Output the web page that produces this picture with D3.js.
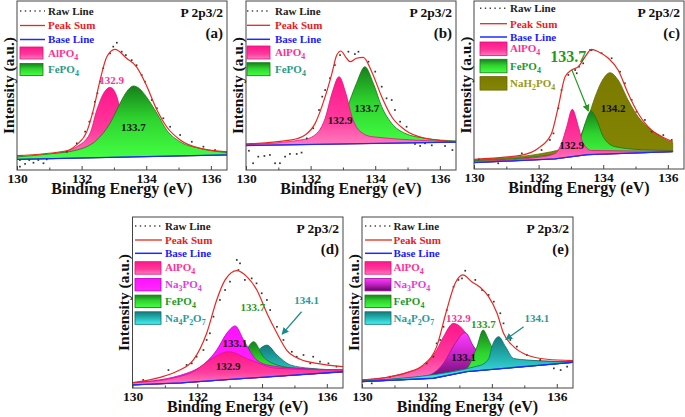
<!DOCTYPE html>
<html>
<head>
<meta charset="utf-8">
<script src="https://d3js.org/d3.v7.min.js"></script>
<style>
  body { margin: 0; background: #fff; }
  svg { display: block; font-family: "Liberation Serif", "Times New Roman", serif; font-weight: bold; }
</style>
</head>
<body>
<svg id="chart" width="685" height="417"></svg>
<script>
// ---- data: [binding energy (eV), intensity (a.u., 0-100 of frame)] ----
const X_TICKS = [130, 132, 134, 136];
const X_MINOR = [131, 133, 135];

// (a)
const aRaw = [[130.09,5.9],[130.25,3.6],[130.38,5.9],[130.51,4.3],[130.66,5.9],[130.82,4],[130.92,6.3],[130.09,2],
  [131.54,10.8],[131.85,15.8],[132.11,22.7],[132.24,28.6],[132.34,33.5],[132.41,40.4],[132.49,45.4],[132.57,52.3],
  [132.67,60.2],[132.88,69],[132.98,73],[133.09,75.3],[133.24,70],[133.37,68],[133.55,65],[133.7,62],[133.86,56.2],
  [133.96,52.3],[134.17,41.4],[134.33,36.5],[134.53,30.6],[134.74,25.6],[135.05,20.7],[135.41,16.7],[135.77,13.8],
  [136.13,11.8],[136.49,10.8]];
const aSum = [[130,8.5],[131.54,11.4],[131.85,15],[132.16,22.7],[132.37,36],[132.57,53],[132.78,67],[133.03,71.4],
  [133.4,66],[133.7,61],[134.0,50.3],[134.33,35.5],[134.63,25.6],[135.05,17.8],[135.67,12.8],[136.5,10.8]];
const aBase = [[130,6.3],[136.5,8.9]];
const aAlPO4 = [[130,7.5],[131.23,9.9],[131.85,13.8],[132.26,21.7],[132.47,35.5],[132.7,46],[132.88,48.9],[133.06,45],
  [133.2,36],[133.45,24],[133.8,15],[134.5,11],[136.5,9.5]];
const aFePO4 = [[130,7.8],[131,9.5],[131.85,11.8],[132.47,17.8],[132.88,27.6],[133.19,39.5],[133.4,46.5],[133.6,49.7],
  [133.8,48],[134.0,43.4],[134.33,33.6],[134.63,23.7],[135.05,16.7],[135.67,12.8],[136.5,10.3]];

// (b)
const bRaw = [[130.09,11.4],[130.22,4],[130.38,7.9],[130.57,8.3],[130.74,8.9],[130.9,4],[131.05,4],[131.21,7.9],
  [131.36,9.5],[131.57,9.5],[131.72,10.3],[131.88,18.7],[132.08,24.7],[132.26,35.5],[132.36,43.4],[132.45,47.3],
  [132.6,54.3],[132.75,62.1],[132.91,68],[133.17,70],[133.37,68.6],[133.48,70],[133.79,64.1],[134.0,58.2],[134.2,49.3],
  [134.35,42.4],[134.51,41.4],[134.61,35.5],[134.77,28.6],[134.97,25.6],[135.23,15.4],[135.39,14.2],[135.54,15.8],
  [135.75,14.6],[136.16,14.2],[136.39,11.8]];
const bSum = [[130,15.4],[131.41,17.8],[131.83,20.7],[132.14,27.6],[132.45,43.4],[132.66,57.2],[132.81,68],[132.94,70.4],
  [133.08,67],[133.22,64.1],[133.42,66.1],[133.63,66.7],[133.89,58.2],[134.2,43.4],[134.51,31.5],[134.92,23.7],
  [135.54,18.8],[136.5,16.7]];
const bBase = [[130,14.5],[136.5,16.5]];
const bAlPO4 = [[130,15],[131.83,18.2],[132.24,22.7],[132.45,30.6],[132.66,45.4],[132.88,55.2],[133.09,45.4],[133.28,31.5],
  [133.49,23.7],[133.9,19.7],[136.5,16.8]];
const bFePO4 = [[130,15],[132.35,16.7],[132.76,20.7],[133.01,29.6],[133.22,41.4],[133.42,51.3],[133.68,61.1],[133.94,51.3],
  [134.2,37.5],[134.51,27.6],[134.92,21.7],[135.54,18.8],[136.5,17.2]];

// (c)
const cRaw = [[130.15,5.8],[130.75,3.4],[131.48,9.3],[132.09,11.3],[132.35,17.3],[132.46,21.2],[132.61,36.1],[132.71,47],
  [132.92,56],[133.13,58.9],[133.18,57],[133.25,60.9],[133.38,62.9],[133.59,70.8],[133.64,70.8],[133.95,68.9],
  [134.26,65.9],[134.52,57.9],[134.67,51],[134.88,41.1],[135.03,34.1],[135.29,29.2],[135.5,22.2],[135.86,20.2],[136.12,17.3]];
const cSum = [[130,5.8],[131.48,8.3],[131.99,12.3],[132.4,21.2],[132.61,37.1],[132.82,54.9],[133.02,58.9],[133.23,60.9],
  [133.44,66.8],[133.64,71.2],[133.85,69.8],[134.16,65.9],[134.46,58.9],[134.77,45],[135.08,33.2],[135.49,23.2],
  [135.85,18.9],[136.15,16.3]];
const cBase = [[130,3.8],[132.5,6],[133.5,8.5],[136.15,10.3]];
const cAlPO4 = [[130,4.5],[132,7],[132.51,9.3],[132.71,15.3],[132.87,25.2],[133.04,35.5],[133.23,25.2],[133.38,15.3],
  [133.64,11],[136.15,10.6]];
const cFePO4 = [[130,5],[132,7.5],[132.8,10],[133.13,12.3],[133.28,17.3],[133.44,27.2],[133.62,34.5],[133.8,29.2],
  [134.0,19.2],[134.36,13.3],[135.19,11.5],[136.15,11]];
const cNaH2PO4 = [[130,5.5],[132.4,10.3],[133.02,15.3],[133.33,21.2],[133.54,31.1],[133.75,43],[133.95,52],[134.21,57.3],
  [134.46,53],[134.77,41],[135.08,31.1],[135.49,23.2],[135.85,18.3],[136.15,15.7]];

// (d)
const dRaw = [[130.33,4.7],[131.11,10.5],[131.67,13.5],[131.83,14.4],[131.98,18.3],[132.19,22.2],[132.29,28.1],[132.39,32],
  [132.5,41.7],[132.7,51.5],[132.86,57.3],[133.01,62.2],[133.22,74.9],[133.27,69],[133.32,72.9],[133.47,63.2],[133.68,64.1],
  [133.83,61.2],[133.99,55.4],[134.15,51.5],[134.25,45.6],[134.46,35.8],[134.66,28.1],[134.92,21.2],[135.07,18.3],
  [135.28,19.3],[135.49,14.4],[135.58,18.3],[135.79,15.4],[136.05,14.4],[136.3,12.5]];
const dSum = [[130,3.1],[130.85,6.2],[131.36,9.6],[131.88,16.4],[132.29,32],[132.6,51.5],[132.86,63.2],[133.22,68.6],
  [133.53,65.1],[133.84,57.3],[134.15,43.7],[134.46,32],[134.76,22.2],[135.18,16.8],[135.69,14.4],[136.5,12.5]];
const dBase = [[130,1.8],[131.5,3],[133,5],[136.5,9.5]];
const dAlPO4 = [[130,3],[131.3,6],[131.88,9.6],[132.39,16.4],[132.96,21.2],[133.63,16.4],[134.46,11.5],[136.5,10.5]];
const dNa3PO4 = [[130,3],[131.67,8.6],[132.29,15.4],[132.6,22.2],[132.91,32],[133.17,36.3],[133.43,28.1],[133.74,18.3],
  [134.15,13.5],[135.08,11.5],[136.5,10.5]];
const dFePO4 = [[130,3],[132.5,9],[133.2,16],[133.53,23],[133.74,27.1],[134.04,18.3],[134.46,13.5],[135.08,11.5],[136.5,10.5]];
const dNa4P2O7 = [[130,3],[133,8],[133.63,16.4],[133.89,22.2],[134.15,25.1],[134.46,19.3],[134.87,13.5],[135.49,11.5],[136.5,10.5]];

// (e)
const eRaw = [[130.3,2.7],[130.86,6.6],[131.99,14.4],[132.2,18.3],[132.3,26.1],[132.41,28.1],[132.51,35.8],[132.61,45.6],
  [132.82,59.2],[132.97,63.2],[133.08,64.1],[133.18,68.6],[133.49,63.2],[133.7,57.3],[133.9,54.4],[134.06,50.5],
  [134.26,43.7],[134.36,37.8],[134.57,28.1],[134.77,24.2],[135.08,19.3],[135.49,16.4],[135.91,11.5],[136.12,10.5],[136.32,12.5]];
const eSum = [[130,4.7],[130.86,6.6],[131.38,9],[131.89,13.5],[132.3,24.2],[132.61,45.6],[132.87,61.2],[133.11,66.1],
  [133.38,62.2],[133.64,58.9],[133.9,53.4],[134.16,43.7],[134.36,32],[134.67,24.2],[135.08,19.3],[135.7,16.8],[136.5,16]];
const eBase = [[130,3.7],[132.2,5.7],[133.23,9.6],[136.5,15]];
const eAlPO4 = [[130,4.7],[131.38,9],[131.99,14.4],[132.3,22.2],[132.51,30],[132.82,37.8],[133.08,34.9],[133.44,24],
  [133.95,16.5],[136.5,15.5]];
const eNa3PO4 = [[130,4.3],[131.89,6.6],[132.51,14.4],[132.87,26.1],[133.18,32.4],[133.44,24.2],[133.75,17.3],[134.16,15.6],[136.5,15.2]];
const eFePO4 = [[130,4],[133.2,11],[133.44,19.3],[133.54,24],[133.73,33.9],[133.9,28.1],[134.1,20.3],[134.47,16.8],[136.5,15.2]];
const eNa4P2O7 = [[130,4],[133.6,13],[133.9,17],[134.0,24],[134.21,30],[134.42,24.2],[134.67,17.3],[135.08,16.4],[136.5,15.2]];

// ---- styles ----
const FONT = '"Liberation Serif", "Times New Roman", serif';
const COMP = {
  AlPO4:   { name: 'AlPO_4',    fill: 'url(#gAl)',   stroke: '#e0137f', text: '#ff2f97' },
  FePO4:   { name: 'FePO_4',    fill: 'url(#gFe)',   stroke: '#137a13', text: '#1f9a1f' },
  NaH2PO4: { name: 'NaH_2PO_4', fill: 'url(#gNaH)',  stroke: '#6a6a00', text: '#9a9a10' },
  Na3PO4:  { name: 'Na_3PO_4',  fill: 'url(#gNa3)',  stroke: '#c000c0', text: '#e040e0' },
  Na3PO4e: { name: 'Na_3PO_4',  fill: 'url(#gNa3e)', stroke: '#a010a0', text: '#e040e0' },
  Na4P2O7: { name: 'Na_4P_2O_7',fill: 'url(#gNa4)',  stroke: '#0e6e6e', text: '#2a9a9a' }
};

const panels = [
  { tag: '(a)', x: 17, y: 1, w: 210, h: 169, raw: aRaw, sum: aSum, base: aBase,
    comps: [['AlPO4', aAlPO4], ['FePO4', aFePO4]], legend: ['AlPO4', 'FePO4'], feText: '#2a9a86',
    leg: { sx: 3, sw: 25, tx: 31, ry: [10, 24.5, 38.5], swY: 46, swStep: 16.5, swW: 23, swH: 12 },
    labels: [['132.9', 132.93, 53.3, '#ff2f97', 11], ['133.7', 133.6, 25.6, '#111', 11]], arrows: [] },
  { tag: '(b)', x: 246, y: 1, w: 210, h: 169, raw: bRaw, sum: bSum, base: bBase,
    comps: [['FePO4', bFePO4], ['AlPO4', bAlPO4]], legend: ['AlPO4', 'FePO4'], feText: '#2a9a86',
    leg: { sx: 1, sw: 23, tx: 29, ry: [10, 24.3, 38.3], swY: 45, swStep: 16.7, swW: 23, swH: 13 },
    labels: [['132.9', 132.91, 29.6, '#111', 11], ['133.7', 133.74, 36.5, '#111', 11]], arrows: [] },
  { tag: '(c)', x: 474, y: 1, w: 210, h: 168, raw: cRaw, sum: cSum, base: cBase,
    comps: [['NaH2PO4', cNaH2PO4], ['FePO4', cFePO4], ['AlPO4', cAlPO4]], legend: ['AlPO4', 'FePO4', 'NaH2PO4'],
    leg: { sx: 6, sw: 27, tx: 36, ry: [7.3, 22.7, 36], swY: 41, swStep: 17.3, swW: 27, swH: 13.5 },
    labels: [['133.7', 132.92, 66.8, '#1f9a1f', 16], ['134.2', 134.31, 36.1, '#111', 11], ['132.9', 133.02, 14.3, '#111', 11]],
    arrows: [[133.03, 59, 133.54, 34.5, '#1f9a1f']] },
  { tag: '(d)', x: 132.5, y: 217, w: 210.5, h: 171, raw: dRaw, sum: dSum, base: dBase,
    comps: [['Na4P2O7', dNa4P2O7], ['FePO4', dFePO4], ['Na3PO4', dNa3PO4], ['AlPO4', dAlPO4]],
    legend: ['AlPO4', 'Na3PO4', 'FePO4', 'Na4P2O7'],
    leg: { sx: 2.5, sw: 27, tx: 32.5, ry: [9, 23, 36.3], swY: 44.7, swStep: 16.7, swW: 26, swH: 12.5 },
    labels: [['133.7', 133.72, 47.5, '#1f9a1f', 11], ['134.1', 135.38, 51.5, '#2a9a9a', 11],
             ['133.1', 133.16, 26.3, '#111', 11], ['132.9', 132.95, 12.5, '#111', 11]],
    arrows: [[135.22, 44.6, 134.62, 31.5, '#1a8a8a']] },
  { tag: '(e)', x: 362, y: 217, w: 211, h: 171, raw: eRaw, sum: eSum, base: eBase,
    comps: [['AlPO4', eAlPO4], ['Na3PO4e', eNa3PO4], ['FePO4', eFePO4], ['Na4P2O7', eNa4P2O7]],
    legend: ['AlPO4', 'Na3PO4e', 'FePO4', 'Na4P2O7'],
    leg: { sx: 3, sw: 27, tx: 31.5, ry: [9, 23, 36.3], swY: 44.7, swStep: 16.7, swW: 26, swH: 12.5 },
    labels: [['132.9', 132.97, 40.8, '#ff2f97', 11], ['133.7', 133.74, 37.4, '#1f9a1f', 11],
             ['134.1', 135.39, 40.8, '#2a9a9a', 11], ['133.1', 133.13, 18.3, '#111', 11]],
    arrows: [[134.98, 35.8, 134.43, 28.3, '#1a8a8a']] }
];

const svg = d3.select('#chart');
const defs = svg.append('defs');

function grad(id, stops) {
  const g = defs.append('linearGradient').attr('id', id)
    .attr('x1', 0).attr('y1', 0).attr('x2', 0).attr('y2', 1);
  stops.forEach(s => g.append('stop').attr('offset', s[0]).attr('stop-color', s[1]));
}
grad('gAl',  [[0, '#ff168b'], [0.6, '#ff3a9c'], [1, '#ff7cc0']]);
grad('gFe',  [[0, '#16801a'], [0.45, '#2fd42f'], [1, '#44ff44']]);
grad('gNaH', [[0, '#7a7a00'], [1, '#858505']]);
grad('gNa3', [[0, '#ff10ff'], [1, '#ff2bff']]);
grad('gNa3e',[[0, '#ff3cff'], [0.5, '#c020c0'], [1, '#5a0a5a']]);
grad('gNa4', [[0, '#137a7a'], [0.5, '#26b4b4'], [1, '#44f2f2']]);

['#1f9a1f', '#1a8a8a'].forEach((c, i) => {
  defs.append('marker').attr('id', 'arr' + i)
    .attr('viewBox', '0 0 10 10').attr('refX', 9).attr('refY', 5)
    .attr('markerUnits', 'userSpaceOnUse').attr('markerWidth', 7).attr('markerHeight', 7)
    .attr('orient', 'auto')
    .append('path').attr('d', 'M0,0 L10,5 L0,10 z').attr('fill', c);
});

// text with numeric subscripts written as _n
function richText(sel, str, size) {
  const parts = str.split(/_(\d)/);
  parts.forEach((p, i) => {
    if (!p) return;
    if (i % 2 === 1) sel.append('tspan').attr('dy', 3).attr('font-size', size * 0.72).text(p);
    else sel.append('tspan').attr('dy', i ? -3 : 0).text(p);
  });
}

panels.forEach((p, pi) => {
  const x = d3.scaleLinear().domain([130, 136.5]).range([p.x, p.x + p.w]);
  const y = d3.scaleLinear().domain([0, 100]).range([p.y + p.h, p.y]);
  const g = svg.append('g');

  defs.append('clipPath').attr('id', 'clip' + pi)
    .append('rect').attr('x', p.x).attr('y', p.y).attr('width', p.w).attr('height', p.h);
  const plot = g.append('g').attr('clip-path', `url(#clip${pi})`);

  const smooth = d3.line().x(d => x(d[0])).y(d => y(d[1])).curve(d3.curveMonotoneX);
  const straight = d3.line().x(d => x(d[0])).y(d => y(d[1]));

  // fitted components, closed down to the base line
  p.comps.forEach(([key, pts]) => {
    const st = COMP[key];
    const top = smooth(pts);
    const bottom = straight(p.base.slice().reverse());
    plot.append('path')
      .attr('d', top + 'L' + bottom.slice(1) + 'Z')
      .attr('fill', st.fill)
      .attr('stroke', st.stroke)
      .attr('stroke-width', 0.8);
  });

  // raw data
  plot.selectAll('.raw').data(p.raw).enter().append('rect')
    .attr('x', d => x(d[0]) - 0.85).attr('y', d => y(d[1]) - 0.85)
    .attr('width', 1.7).attr('height', 1.7).attr('fill', '#333');

  // peak sum
  plot.append('path').attr('d', smooth(p.sum))
    .attr('fill', 'none').attr('stroke', '#e8281f').attr('stroke-width', 1.2);

  // base line
  plot.append('path').attr('d', straight(p.base))
    .attr('fill', 'none').attr('stroke', '#1c2cff').attr('stroke-width', 1.3);

  // frame
  g.append('rect').attr('x', p.x).attr('y', p.y).attr('width', p.w).attr('height', p.h)
    .attr('fill', 'none').attr('stroke', '#444').attr('stroke-width', 1);

  // x axis
  const axG = g.append('g').attr('transform', `translate(0,${p.y + p.h})`)
    .call(d3.axisBottom(x).tickValues(X_TICKS).tickSize(-4).tickPadding(3.5).tickFormat(d3.format('d')));
  axG.select('.domain').remove();
  axG.attr('font-family', FONT).attr('font-size', 13.5).attr('font-weight', 'bold');
  axG.selectAll('text').attr('fill', '#111');
  axG.selectAll('line').attr('stroke', '#444');
  const mnG = g.append('g').attr('transform', `translate(0,${p.y + p.h})`)
    .call(d3.axisBottom(x).tickValues(X_MINOR).tickSize(-2.5).tickFormat(''));
  mnG.select('.domain').remove();
  mnG.selectAll('line').attr('stroke', '#444');

  g.append('text')
    .attr('x', p.x + p.w / 2).attr('y', p.y + p.h + 24)
    .attr('text-anchor', 'middle').attr('font-size', 16).attr('fill', '#111')
    .text('Binding Energy (eV)');
  g.append('text')
    .attr('transform', `translate(${p.x - 3.5},${p.y + p.h / 2}) rotate(-90)`)
    .attr('text-anchor', 'middle').attr('font-size', 15.5).attr('fill', '#111')
    .text('Intensity (a.u.)');

  // titles
  g.append('text').attr('x', p.x + p.w - 4).attr('y', p.y + 15.5)
    .attr('text-anchor', 'end').attr('font-size', 13.5).attr('fill', '#111').text('P 2p3/2');
  g.append('text').attr('x', p.x + p.w - 4).attr('y', p.y + 36.5)
    .attr('text-anchor', 'end').attr('font-size', 15).attr('fill', '#111').text(p.tag);

  // legend
  const L = p.leg;
  const lineRows = [
    ['Raw Line', '#222', '#444', '1.4,3.4', 1.4],
    ['Peak Sum', '#e8201c', '#e8281f', null, 1.3],
    ['Base Line', '#1a1aff', '#1c2cff', null, 1.5]
  ];
  lineRows.forEach((r, i) => {
    const yy = p.y + L.ry[i];
    g.append('line').attr('x1', p.x + L.sx).attr('x2', p.x + L.sx + L.sw)
      .attr('y1', yy).attr('y2', yy)
      .attr('stroke', r[2]).attr('stroke-width', r[4])
      .attr('stroke-dasharray', r[3]);
    g.append('text').attr('x', p.x + L.tx).attr('y', yy + 3.8)
      .attr('font-size', 11).attr('fill', r[1]).text(r[0]);
  });
  p.legend.forEach((key, i) => {
    const st = COMP[key];
    const yy = p.y + L.swY + i * L.swStep;
    g.append('rect').attr('x', p.x + L.sx).attr('y', yy)
      .attr('width', L.swW).attr('height', L.swH)
      .attr('fill', st.fill).attr('stroke', st.stroke).attr('stroke-width', 0.8);
    const color = (key === 'FePO4' && p.feText) ? p.feText : st.text;
    const t = g.append('text').attr('x', p.x + L.tx).attr('y', yy + L.swH / 2 + 3.5)
      .attr('font-size', 11).attr('fill', color);
    richText(t, st.name, 11);
  });

  // peak annotations
  p.labels.forEach(l => {
    g.append('text').attr('x', x(l[1])).attr('y', y(l[2])).attr('dy', '0.35em')
      .attr('text-anchor', 'middle').attr('font-size', l[4]).attr('fill', l[3]).text(l[0]);
  });
  p.arrows.forEach(a => {
    g.append('line').attr('x1', x(a[0])).attr('y1', y(a[1])).attr('x2', x(a[2])).attr('y2', y(a[3]))
      .attr('stroke', a[4]).attr('stroke-width', 1.2)
      .attr('marker-end', a[4] === '#1f9a1f' ? 'url(#arr0)' : 'url(#arr1)');
  });
});
</script>
</body>
</html>
